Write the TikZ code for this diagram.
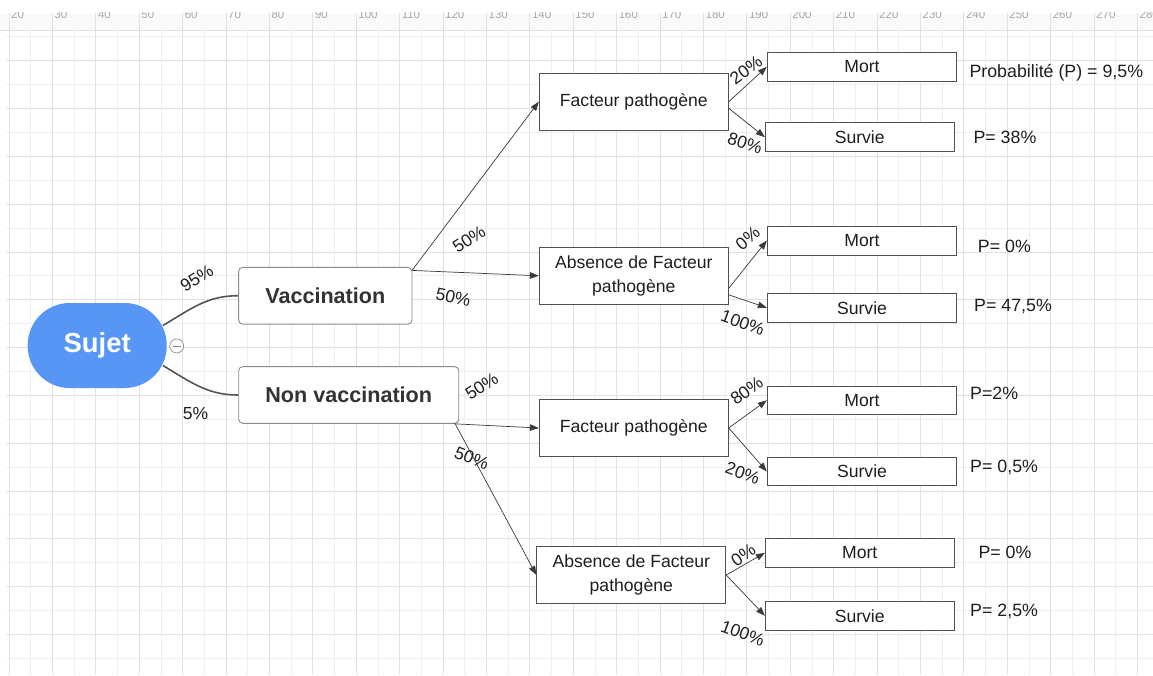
\documentclass[tikz,border=0pt]{standalone}
\usepackage{fontspec}
\setmainfont{Liberation Sans}
\usetikzlibrary{arrows.meta}
\definecolor{sujetblue}{HTML}{5896F6}
\definecolor{gridmaj}{HTML}{E2E2E2}
\definecolor{gridmin}{HTML}{EFEFEF}
\definecolor{rulerbg}{HTML}{FAFAFA}
\definecolor{rulertxt}{HTML}{A8A8A8}
\definecolor{boxline}{HTML}{505050}
\definecolor{catline}{HTML}{8A8A8A}
\definecolor{txt}{HTML}{1E1E1E}
\definecolor{cattxt}{HTML}{333333}
\definecolor{curveline}{HTML}{555555}
\definecolor{arrowline}{HTML}{3A3A3A}
\begin{document}
\begin{tikzpicture}[x=1pt,y=-1pt,
  sujetbox/.style={fill=sujetblue, draw=none, rounded corners=42pt, minimum width=139pt, minimum height=85pt, inner sep=0pt, text=white, font=\fontsize{27.4}{30}\selectfont\bfseries},
  catbox/.style={draw=catline, line width=0.9pt, rounded corners=4pt, fill=white, inner sep=0pt, minimum height=56.7pt, text=cattxt, font=\fontsize{21.6}{24}\selectfont\bfseries},
  factbox/.style={draw=boxline, line width=0.9pt, fill=white, inner sep=0pt, minimum width=189pt, minimum height=57pt, text=txt, align=center, font=\fontsize{17.6}{24}\selectfont},
  endbox/.style={draw=boxline, line width=0.9pt, fill=white, inner sep=0pt, minimum width=189.4pt, minimum height=29pt, text=txt, font=\fontsize{17.6}{20}\selectfont},
  probtxt/.style={anchor=west, inner sep=0pt, text=txt, font=\fontsize{17.8}{20}\selectfont},
  pct/.style={inner sep=0pt, text=txt, font=\fontsize{17.5}{20}\selectfont},
  branch/.style={draw=curveline, line width=1.6pt},
  arr/.style={draw=arrowline, line width=0.7pt, -{Triangle[length=9pt,width=6.5pt]}},
  ruletxt/.style={anchor=base west, inner sep=0pt, text=rulertxt, font=\fontsize{11.5}{12}\selectfont}
]
\useasboundingbox (0,0) rectangle (1153,675);
\fill[white] (0,0) rectangle (1153,675);
% ruler
\fill[rulerbg] (0,12.7) rectangle (1153,30);
\begin{scope}
\clip (0,12.9) rectangle (1153,30);
\foreach \n [count=\k from 0] in {20,30,...,280} {
  \node[ruletxt] (rl\n) at ({9+43.4*\k+2},18.4) {\n};
}
\end{scope}
\draw[gridmaj, line width=0.8pt] (0,30) -- (1153,30);
% grid
\foreach \k in {0,...,13} {
  \draw[gridmin, line width=0.8pt] (6,{36.8+47.8*\k}) -- (1153,{36.8+47.8*\k});
}
\foreach \k in {0,...,12} {
  \draw[gridmaj, line width=0.8pt] (6,{60.7+47.8*\k}) -- (1153,{60.7+47.8*\k});
}
\foreach \k in {0,...,25} {
  \draw[gridmin, line width=0.8pt] ({30.7+43.4*\k},30) -- ({30.7+43.4*\k},675);
}
\foreach \k in {0,...,26} {
  \draw[gridmaj, line width=0.8pt] ({9+43.4*\k},12.7) -- ({9+43.4*\k},675);
}
% main nodes
\node[sujetbox] (sujet) at (97.2,345.5) {Sujet};
\node[circle, draw=gray, line width=0.6pt, fill=white, minimum size=14pt, inner sep=0pt] (collapse) at (176.7,346) {};
\draw[gray, line width=0.6pt] ([xshift=-4pt]collapse.center) -- ([xshift=4pt]collapse.center);
\node[catbox, minimum width=173.3pt] (vac) at (325.3,295.7) {Vaccination};
\node[catbox, minimum width=220pt] (nonvac) at (348.7,395) {Non vaccination};

\node[factbox] (fp1) at (633.8,101.7) {Facteur pathogène};
\node[factbox] (abs1) at (633.8,275.8) {Absence de Facteur\\pathogène};
\node[factbox] (fp2) at (633.8,428) {Facteur pathogène};
\node[factbox] (abs2) at (631.3,575) {Absence de Facteur\\pathogène};

\node[endbox] (mort1) at (862,66.8) {Mort};
\node[endbox, minimum width=188.7pt] (surv1) at (859.7,137.2) {Survie};
\node[endbox] (mort2) at (862,240.5) {Mort};
\node[endbox] (surv2) at (862,307.8) {Survie};
\node[endbox, minimum height=27.5pt] (mort3) at (862,400.3) {Mort};
\node[endbox, minimum height=28.4pt] (surv3) at (862,471.5) {Survie};
\node[endbox, minimum width=188.7pt] (mort4) at (859.7,552.8) {Mort};
\node[endbox, minimum width=188.7pt, minimum height=28.3pt] (surv4) at (859.7,615.8) {Survie};

\node[probtxt] (p1) at (969.3,72.3) {Probabilité (P) = 9,5\%};
\node[probtxt] (p2) at (973.3,137.3) {P= 38\%};
\node[probtxt] (p3) at (977.7,246.7) {P= 0\%};
\node[probtxt] (p4) at (974,306.7) {P= 47,5\%};
\node[probtxt] (p5) at (970,393.3) {P=2\%};
\node[probtxt] (p6) at (970,467.7) {P= 0,5\%};
\node[probtxt] (p7) at (978.3,552.3) {P= 0\%};
\node[probtxt] (p8) at (970,611.7) {P= 2,5\%};

% branches
\draw[branch] ([xshift=-4pt,yshift=20pt]sujet.east) .. controls +(30pt,18pt) and +(-30pt,0pt) .. (vac.west);
\draw[branch] ([xshift=-4pt,yshift=-20pt]sujet.east) .. controls +(30pt,-18pt) and +(-30pt,0pt) .. (nonvac.west);

% arrows
\draw[arr] ([yshift=-3pt]vac.north east) -- (fp1.west);
\draw[arr] ([yshift=-3.5pt]vac.north east) -- (abs1.west);
\draw[arr] ([xshift=-5pt]nonvac.south east) -- (fp2.west);
\draw[arr] ([xshift=-4pt]nonvac.south east) -- (abs2.west);
\draw[arr] (fp1.east) -- (mort1.west);
\draw[arr] ([yshift=-6.6pt]fp1.east) -- (surv1.west);
\draw[arr] ([yshift=-12.5pt]abs1.east) -- (mort2.west);
\draw[arr] ([yshift=-19pt]abs1.east) -- (surv2.west);
\draw[arr] (fp2.east) -- (mort3.west);
\draw[arr] (fp2.east) -- (surv3.west);
\draw[arr] (abs2.east) -- (mort4.west);
\draw[arr] (abs2.east) -- (surv4.west);

% percentage labels
\node[pct, rotate=32] (l95) at (196.7,278.3) {95\%};
\node[pct] (l5) at (195.5,414) {5\%};
\node[pct, rotate=33] (l50a) at (469,239.3) {50\%};
\node[pct, rotate=-12] (l50b) at (453.3,297.3) {50\%};
\node[pct, rotate=36] (l20a) at (746,70) {20\%};
\node[pct, rotate=-18] (l80a) at (745,143.3) {80\%};
\node[pct, rotate=40] (l0a) at (747.7,238.3) {0\%};
\node[pct, rotate=-20] (l100a) at (742.7,322.7) {100\%};
\node[pct, rotate=33] (l50c) at (481.7,386) {50\%};
\node[pct, rotate=-22] (l50d) at (471.7,458.3) {50\%};
\node[pct, rotate=36] (l80b) at (746.7,390.7) {80\%};
\node[pct, rotate=-20] (l20b) at (742.7,473.3) {20\%};
\node[pct, rotate=35] (l0b) at (743.3,555) {0\%};
\node[pct, rotate=-20] (l100b) at (742.7,633.3) {100\%};
\end{tikzpicture}
\end{document}
